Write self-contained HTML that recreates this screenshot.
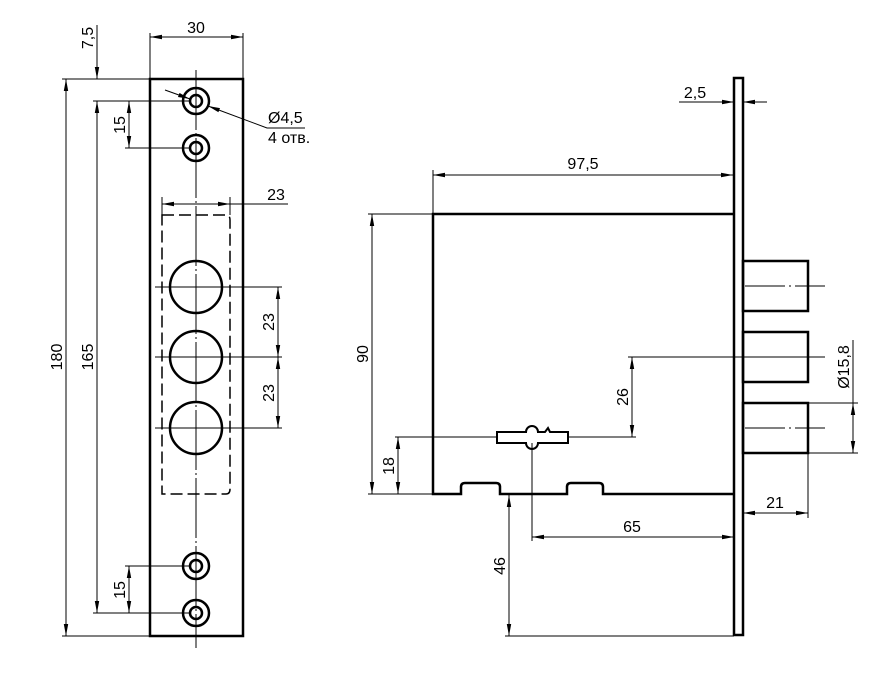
<!DOCTYPE html>
<html><head><meta charset="utf-8"><style>
html,body{margin:0;padding:0;background:#fff;}
svg{display:block;}
text{font-family:"Liberation Sans",sans-serif;font-size:16px;fill:#000;}
</style></head><body>
<svg width="880" height="681" viewBox="0 0 880 681" xmlns="http://www.w3.org/2000/svg">
<defs>
<marker id="a" viewBox="0 0 12 6" refX="12" refY="3" markerWidth="12" markerHeight="6" orient="auto-start-reverse" markerUnits="userSpaceOnUse">
<path d="M0,0.8 L12,3 L0,5.2 Z" fill="#000"/>
</marker>
</defs>
<g stroke="#000" fill="none">
<rect x="150" y="79" width="93" height="557" stroke-width="2.5"/>
<line x1="196" y1="70" x2="196" y2="648" stroke-width="1" stroke-dasharray="60,3,2,3"/>
<g stroke-width="2.5">
<circle cx="196" cy="101" r="13"/><circle cx="196" cy="101" r="6"/>
<circle cx="196" cy="148" r="13"/><circle cx="196" cy="148" r="6"/>
<circle cx="196" cy="566" r="13"/><circle cx="196" cy="566" r="6"/>
<circle cx="196" cy="613" r="13"/><circle cx="196" cy="613" r="6"/>
<circle cx="196" cy="287" r="26"/>
<circle cx="196" cy="357" r="26"/>
<circle cx="196" cy="428" r="26"/>
</g>
<path d="M162,215 H226 Q230,215 230,220 V489 Q230,494 226,494 H162 Z" stroke-width="1.5" stroke-dasharray="12,5"/>
<g stroke-width="1">
<line x1="150" y1="33" x2="150" y2="79"/><line x1="243" y1="33" x2="243" y2="79"/>
<line x1="150" y1="37" x2="243" y2="37" marker-start="url(#a)" marker-end="url(#a)"/>
<line x1="62" y1="79" x2="150" y2="79"/>
<line x1="93" y1="101" x2="190" y2="101"/>
<line x1="125" y1="148" x2="190" y2="148"/>
<line x1="125" y1="566" x2="190" y2="566"/>
<line x1="93" y1="613" x2="190" y2="613"/>
<line x1="62" y1="636" x2="150" y2="636"/>
<line x1="97" y1="25" x2="97" y2="79" marker-end="url(#a)"/>
<line x1="97" y1="101" x2="97" y2="613" marker-start="url(#a)" marker-end="url(#a)"/>
<line x1="66" y1="79" x2="66" y2="636" marker-start="url(#a)" marker-end="url(#a)"/>
<line x1="129" y1="101" x2="129" y2="148" marker-start="url(#a)" marker-end="url(#a)"/>
<line x1="129" y1="566" x2="129" y2="613" marker-start="url(#a)" marker-end="url(#a)"/>
<line x1="165" y1="90" x2="190" y2="99" marker-end="url(#a)"/>
<polyline points="305,128 267,128 208,106" marker-end="url(#a)"/>
<line x1="162" y1="197" x2="162" y2="215"/><line x1="230" y1="197" x2="230" y2="215"/>
<line x1="162" y1="204" x2="230" y2="204" marker-start="url(#a)" marker-end="url(#a)"/>
<line x1="230" y1="204" x2="288" y2="204"/>
<line x1="155" y1="287" x2="282" y2="287"/>
<line x1="155" y1="357" x2="282" y2="357"/>
<line x1="155" y1="428" x2="282" y2="428"/>
<line x1="278" y1="287" x2="278" y2="357" marker-start="url(#a)" marker-end="url(#a)"/>
<line x1="278" y1="357" x2="278" y2="428" marker-start="url(#a)" marker-end="url(#a)"/>
</g>

<rect x="734" y="78" width="9" height="557" stroke-width="2.5"/>
<path d="M734,214 H433 V494 H461 V487 Q461,483 465,483 H496 Q500,483 500,487 V494 H567 V487 Q567,483 571,483 H599 Q603,483 603,487 V494 H734" stroke-width="2.5"/>
<g stroke-width="2.5">
<rect x="743" y="261" width="65" height="50"/>
<rect x="743" y="332" width="65" height="50"/>
<rect x="743" y="403" width="65" height="50"/>
<path d="M497,432 H526 A6,6 0 0 1 538,432 H545 L548,428 L550,432 H568 V443 H538 A6,6 0 0 1 526,443 H497 Z" stroke-width="2"/>
</g>
<g stroke-width="1">
<line x1="745" y1="286" x2="825" y2="286" stroke-dasharray="40,4,2,4,40"/>
<line x1="628" y1="357" x2="825" y2="357"/>
<line x1="745" y1="428" x2="825" y2="428" stroke-dasharray="40,4,2,4,40"/>
<line x1="433" y1="170" x2="433" y2="214"/>
<line x1="433" y1="175" x2="733" y2="175" marker-start="url(#a)" marker-end="url(#a)"/>
<line x1="679" y1="102" x2="734" y2="102" marker-end="url(#a)"/>
<line x1="767" y1="102" x2="743" y2="102" marker-end="url(#a)"/>
<line x1="368" y1="214" x2="433" y2="214"/>
<line x1="368" y1="494" x2="433" y2="494"/>
<line x1="372" y1="214" x2="372" y2="494" marker-start="url(#a)" marker-end="url(#a)"/>
<line x1="395" y1="437" x2="497" y2="437"/>
<line x1="568" y1="437" x2="636" y2="437"/>
<line x1="398" y1="437" x2="398" y2="494" marker-start="url(#a)" marker-end="url(#a)"/>
<line x1="632" y1="357" x2="632" y2="437" marker-start="url(#a)" marker-end="url(#a)"/>
<line x1="532" y1="443" x2="532" y2="541"/>
<line x1="532" y1="537" x2="734" y2="537" marker-start="url(#a)" marker-end="url(#a)"/>
<line x1="505" y1="636" x2="734" y2="636"/>
<line x1="509" y1="495" x2="509" y2="636" marker-start="url(#a)" marker-end="url(#a)"/>
<line x1="808" y1="403" x2="858" y2="403"/>
<line x1="808" y1="453" x2="858" y2="453"/>
<line x1="853" y1="340" x2="853" y2="403"/>
<line x1="853" y1="403" x2="853" y2="453" marker-start="url(#a)" marker-end="url(#a)"/>
<line x1="808" y1="453" x2="808" y2="518"/>
<line x1="743" y1="513" x2="808" y2="513" marker-start="url(#a)" marker-end="url(#a)"/>
</g>
</g>
<g>
<text x="196" y="33" text-anchor="middle">30</text>
<text transform="translate(93,38) rotate(-90)" text-anchor="middle">7,5</text>
<text transform="translate(62,357) rotate(-90)" text-anchor="middle">180</text>
<text transform="translate(93,357) rotate(-90)" text-anchor="middle">165</text>
<text transform="translate(125,125) rotate(-90)" text-anchor="middle">15</text>
<text transform="translate(125,590) rotate(-90)" text-anchor="middle">15</text>
<text x="268" y="123">Ø4,5</text>
<text x="268" y="143">4 отв.</text>
<text x="276" y="200" text-anchor="middle">23</text>
<text transform="translate(274,322) rotate(-90)" text-anchor="middle">23</text>
<text transform="translate(274,393) rotate(-90)" text-anchor="middle">23</text>
<text x="583" y="169" text-anchor="middle">97,5</text>
<text x="695" y="98" text-anchor="middle">2,5</text>
<text transform="translate(368,354) rotate(-90)" text-anchor="middle">90</text>
<text transform="translate(394,466) rotate(-90)" text-anchor="middle">18</text>
<text transform="translate(628,397) rotate(-90)" text-anchor="middle">26</text>
<text x="632" y="532" text-anchor="middle">65</text>
<text transform="translate(505,566) rotate(-90)" text-anchor="middle">46</text>
<text transform="translate(849,367) rotate(-90)" text-anchor="middle">Ø15,8</text>
<text x="775" y="508" text-anchor="middle">21</text>
</g>
</svg>
</body></html>
